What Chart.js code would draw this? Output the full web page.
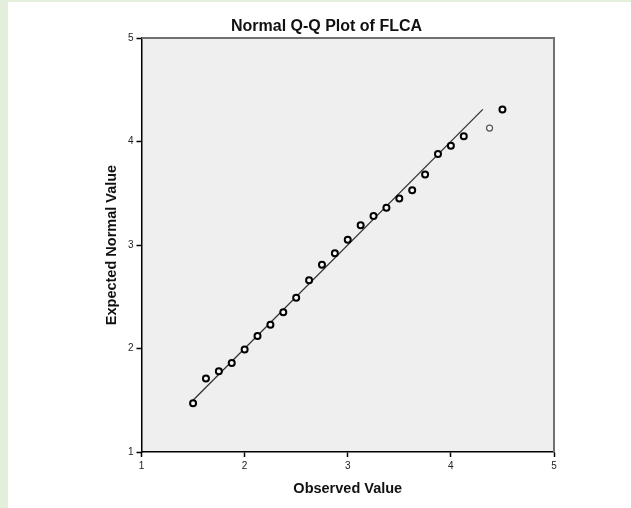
<!DOCTYPE html>
<html>
<head>
<meta charset="utf-8">
<script src="https://cdn.jsdelivr.net/npm/chart.js@4.4.1/dist/chart.umd.min.js"></script>
<style>
  html, body { margin: 0; padding: 0; background: #fff; }
  canvas { display: block; }
</style>
</head>
<body>
<canvas id="qqChart" width="631" height="508"></canvas>
<script>
// Q-Q data
const observed = [1.5, 1.625, 1.75, 1.875, 2.0, 2.125, 2.25, 2.375, 2.5, 2.625, 2.75, 2.875,
                  3.0, 3.125, 3.25, 3.375, 3.5, 3.625, 3.75, 3.875, 4.0, 4.125, 4.375, 4.5];
const expected = [1.47, 1.71, 1.78, 1.86, 1.99, 2.12, 2.23, 2.35, 2.49, 2.66, 2.81, 2.92,
                  3.05, 3.19, 3.28, 3.36, 3.45, 3.53, 3.68, 3.88, 3.96, 4.05, 4.13, 4.31];
// reference line (y = x)
const refLineX = [1.5, 4.31];
const refLineY = [1.5, 4.31];
const axisTicks = [1, 2, 3, 4, 5];
const faintIndex = 22; // the lighter circle near the top

const ctx = document.getElementById('qqChart').getContext('2d');
Chart.defaults.font.family = "'Liberation Sans', Arial, sans-serif";

// Page panel, plot background and the grey top/right frame
const backdrop = {
  id: 'backdrop',
  beforeDraw(chart) {
    const { ctx, width, height, chartArea: { left, top, right, bottom } } = chart;
    ctx.save();
    ctx.fillStyle = '#e3eedb';
    ctx.fillRect(0, 0, width, height);
    ctx.fillStyle = '#ffffff';
    ctx.fillRect(8, 2, width - 8, height - 2);
    ctx.fillStyle = '#efefef';
    ctx.fillRect(left, top, right - left, bottom - top);
    ctx.restore();
  },
  afterDraw(chart) {
    const { ctx, chartArea: { left, top, right, bottom } } = chart;
    ctx.save();
    ctx.strokeStyle = '#707070';
    ctx.lineWidth = 2;
    ctx.beginPath();
    ctx.moveTo(left, top);
    ctx.lineTo(right, top);
    ctx.lineTo(right, bottom);
    ctx.stroke();
    ctx.restore();
  }
};

const tickSetup = (scale) => {
  scale.ticks = axisTicks.map(v => ({ value: v }));
};

new Chart(ctx, {
  type: 'scatter',
  data: {
    datasets: [
      {
        type: 'line',
        data: refLineX.map((x, i) => ({ x, y: refLineY[i] })),
        borderColor: '#333',
        borderWidth: 1.3,
        pointRadius: 0,
        fill: false,
        order: 2
      },
      {
        data: observed.map((x, i) => ({ x, y: expected[i] })),
        pointRadius: 3,
        pointBorderWidth: c => c.dataIndex === faintIndex ? 1.2 : 2,
        pointBorderColor: c => c.dataIndex === faintIndex ? '#555' : '#000',
        pointBackgroundColor: '#f8f8f8',
        order: 1
      }
    ]
  },
  options: {
    responsive: false,
    animation: false,
    devicePixelRatio: 1,
    layout: { padding: { left: 99, right: 77, top: 0, bottom: 6.3 } },
    plugins: {
      legend: { display: false },
      tooltip: { enabled: false },
      title: {
        display: true,
        text: 'Normal Q-Q Plot of FLCA',
        color: '#111',
        font: { size: 16, weight: 'bold' },
        padding: { top: 17.4, bottom: 1.4 }
      }
    },
    scales: {
      x: {
        type: 'linear',
        min: 1,
        max: 5,
        afterBuildTicks: tickSetup,
        afterFit(scale) { scale.height = 49.7; },
        border: { color: '#000', width: 1.5 },
        grid: { drawOnChartArea: false, drawTicks: true, tickLength: 5, tickColor: '#000', tickWidth: 1.5 },
        ticks: { color: '#222', font: { size: 10 }, padding: 3, maxRotation: 0 },
        title: {
          display: true,
          text: 'Observed Value',
          color: '#111',
          font: { size: 14.5, weight: 'bold' },
          padding: { top: 4, bottom: 4 }
        }
      },
      y: {
        type: 'linear',
        min: 1,
        max: 5,
        afterBuildTicks: tickSetup,
        afterFit(scale) { scale.width = 42.5; },
        border: { color: '#000', width: 1.5 },
        grid: { drawOnChartArea: false, drawTicks: true, tickLength: 5, tickColor: '#000', tickWidth: 1.5 },
        ticks: { color: '#222', font: { size: 10 }, padding: 3 },
        title: {
          display: true,
          text: 'Expected Normal Value',
          color: '#111',
          font: { size: 14.5, weight: 'bold' },
          padding: { top: 4, bottom: 4 }
        }
      }
    }
  },
  plugins: [backdrop]
});
</script>
</body>
</html>
